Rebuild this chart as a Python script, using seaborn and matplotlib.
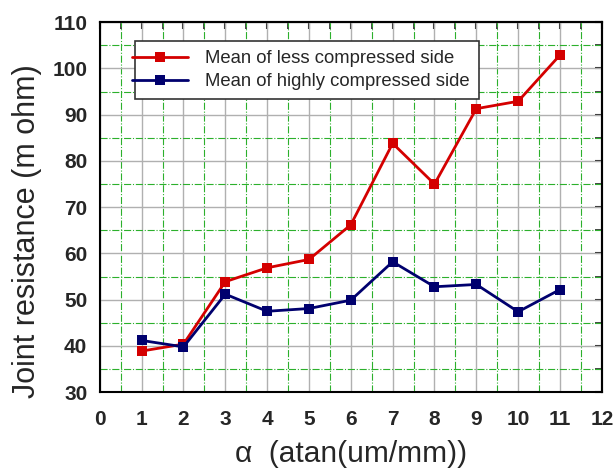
import numpy as np
import pandas as pd
import matplotlib
matplotlib.use('Agg')
import matplotlib.pyplot as plt
import seaborn as sns
from matplotlib.ticker import MultipleLocator, NullFormatter
from matplotlib.legend_handler import HandlerLine2D
from matplotlib.lines import Line2D

alpha = [1, 2, 3, 4, 5, 6, 7, 8, 9, 10, 11]
less_compressed = [38.9, 40.4, 53.9, 56.9, 58.7, 66.2, 83.8, 75.0, 91.3, 92.9, 102.9]
highly_compressed = [41.2, 39.8, 51.2, 47.5, 48.1, 49.9, 58.2, 52.8, 53.3, 47.4, 52.2]
series_names = ['Mean of less compressed side', 'Mean of highly compressed side']

df = pd.DataFrame({
    'alpha': alpha * 2,
    'value': less_compressed + highly_compressed,
    'series': [series_names[0]] * len(alpha) + [series_names[1]] * len(alpha),
})

sns.set_style('white')
plt.rcParams['font.family'] = ['Liberation Sans', 'DejaVu Sans']
plt.rcParams['font.weight'] = 'bold'  # tick labels bold; other texts reset below

fig = plt.figure(figsize=(6.16, 4.72), dpi=100)
ax = fig.add_axes([0.162, 0.169, 0.815, 0.784])

sns.lineplot(data=df, x='alpha', y='value', hue='series', style='series',
             palette=['#d40000', '#00006e'], markers=['s', 's'], dashes=False,
             markersize=7, linewidth=2, markeredgewidth=0, ax=ax)

ax.set_xlim(0, 12)
ax.set_ylim(30, 110)

ax.grid(which='major', color='#b0b0b0', linestyle='-', linewidth=1)
ax.grid(which='minor', color='#2cb02c', linestyle='-.', linewidth=0.8)
ax.set_axisbelow(True)

for sp in ax.spines.values():
    sp.set_linewidth(1.5)
    sp.set_color('black')

# top / right mirror axes with inward ticks
top = ax.secondary_xaxis('top')
right = ax.secondary_yaxis('right')
for a in (ax.xaxis, top.xaxis):
    a.set_major_locator(MultipleLocator(1))
    a.set_minor_locator(MultipleLocator(0.5))
for a in (ax.yaxis, right.yaxis):
    a.set_major_locator(MultipleLocator(10))
    a.set_minor_locator(MultipleLocator(5))
top.xaxis.set_major_formatter(NullFormatter())
right.yaxis.set_major_formatter(NullFormatter())
for s in (top, right):
    s.tick_params(which='major', direction='in', length=5, width=1.5)
    s.tick_params(which='minor', direction='in', length=5, width=1.2)
    for sp in s.spines.values():
        sp.set_linewidth(1.5)

ax.tick_params(which='major', direction='out', length=5, width=1.5, labelsize=15)
ax.tick_params(axis='x', which='major', pad=8)
ax.tick_params(axis='y', which='major', pad=4)
ax.tick_params(which='minor', direction='out', length=3, width=1.2)

ax.set_xlabel('α  (atan(um/mm))', fontsize=21.5, fontweight='normal')
ax.set_ylabel('Joint resistance (m ohm)', fontsize=22, fontweight='normal')
ax.xaxis.set_label_coords(0.5, -0.128)
ax.yaxis.set_label_coords(-0.115, 0.435)

# handle shifted right a bit, like the original legend
handler = HandlerLine2D(xpad=-0.65)
leg = ax.legend(loc='upper left', bbox_to_anchor=(0.0697, 0.9486), borderaxespad=0,
                prop={'size': 13.3, 'weight': 'normal'}, frameon=True, fancybox=False,
                handlelength=2.38, handletextpad=0.92, borderpad=0.5,
                labelspacing=0.3, handler_map={Line2D: handler})
leg.get_frame().set_edgecolor('#333333')
leg.get_frame().set_linewidth(1.2)
leg.get_frame().set_alpha(1)

fig.savefig('out.png', dpi=100)
